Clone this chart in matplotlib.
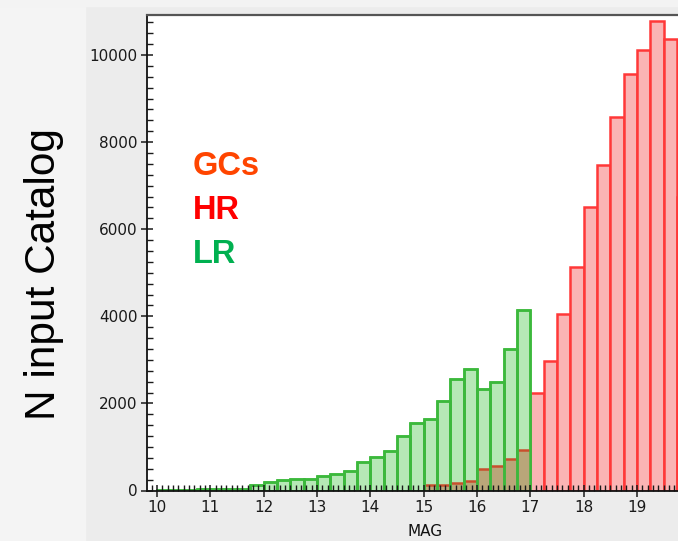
import matplotlib
matplotlib.use('Agg')
import matplotlib.pyplot as plt
import numpy as np
from matplotlib.patches import Rectangle
from matplotlib.ticker import MultipleLocator

# ---- data: histogram bins (0.25 mag wide), left edges and counts ----
BIN = 0.25
lr_left = np.arange(10.0, 17.0, BIN)          # LR (green) bins 10.00 .. 16.75
lr_counts = [20, 20, 20, 45, 45, 45, 45, 115,
             190, 235, 272, 265, 333, 370, 458, 650,
             770, 905, 1250, 1556, 1648, 2055, 2553, 2798,
             2338, 2492, 3243, 4140]
hr_left = np.arange(15.0, 20.0, BIN)          # HR (red) bins 15.00 .. 19.75
hr_counts = [115, 115, 161, 222, 498, 560, 713, 935,
             2246, 2967, 4063, 5136, 6502, 7483, 8571, 9560,
             10120, 10772, 10373, 6740]
x_ticks = [10, 11, 12, 13, 14, 15, 16, 17, 18, 19]

legend_labels = ['GCs', 'HR', 'LR']
legend_colors = ['#ff4500', '#ff0000', '#00b050']

W, H = 678, 541
fig = plt.figure(figsize=(W / 100, H / 100), dpi=100, facecolor='#ececec')
fig.patches.append(Rectangle((0, 0), 85 / W, 1, transform=fig.transFigure,
                             color='#f4f4f4', zorder=0))
fig.patches.append(Rectangle((0, 1 - 6 / H), 1, 6 / H, transform=fig.transFigure,
                             color='#f3f3f3', zorder=0))

ax = fig.add_axes([147 / W, 1 - 490.5 / H, (703 - 147) / W, (490.5 - 14.7) / H])
ax.set_facecolor('white')
ax.set_xlim(9.81, 20.24)
ax.set_ylim(0, 10925)

# red (HR) bars
ax.bar(hr_left, hr_counts, width=BIN, align='edge', color='#fab4b4',
       edgecolor='#ff3838', linewidth=1.8, zorder=1.1)
# green (LR) bars
ax.bar(lr_left, lr_counts, width=BIN, align='edge', color='#b6e8b6',
       edgecolor='#3cc03c', linewidth=1.8, zorder=1.2)

# overlap region (both catalogs)
lr_map = {round(m, 2): c for m, c in zip(lr_left, lr_counts)}
ov_left, ov_h = [], []
for m, c in zip(hr_left, hr_counts):
    key = round(m, 2)
    if key in lr_map:
        ov_left.append(m)
        ov_h.append(min(c, lr_map[key]))
ov_left = np.array(ov_left)
ov_h = np.array(ov_h)
ax.bar(ov_left, ov_h, width=BIN, align='edge', color='#b9a679',
       edgecolor='none', zorder=1.3)
ax.hlines(ov_h, ov_left, ov_left + BIN, color='#c8502d', linewidth=1.8, zorder=1.4)
ax.bar(lr_left, lr_counts, width=BIN, align='edge', fill=False,
       edgecolor='#3cb83c', linewidth=1.8, zorder=1.5)

# axes styling
ax.set_xticks(x_ticks)
ax.xaxis.set_minor_locator(MultipleLocator(0.1))
ax.yaxis.set_major_locator(MultipleLocator(2000))
ax.yaxis.set_minor_locator(MultipleLocator(250))
ax.tick_params(which='major', direction='inout', length=8, width=1.1,
               labelsize=11, colors='#1a1a1a', pad=3)
ax.tick_params(which='minor', direction='in', length=4, width=1.0, colors='#1a1a1a')
ax.tick_params(top=False, right=False, which='both')
for s in ['left', 'bottom']:
    ax.spines[s].set_linewidth(1.3)
    ax.spines[s].set_color('#111111')
ax.spines['top'].set_linewidth(1.6)
ax.spines['top'].set_color('#555555')
ax.set_xlabel('MAG', fontsize=11, labelpad=6, color='#111111')

# y label
fig.text(44 / W, 1 - 273.5 / H, 'N input Catalog', rotation=90, ha='center',
         va='center', fontsize=30.5, family='Liberation Sans', color='black')

# colored labels
for i, (lab, col) in enumerate(zip(legend_labels, legend_colors)):
    fig.text(193 / W, 1 - (175 + i * 44) / H, lab, fontsize=23.5, fontweight='bold',
             family='Liberation Sans', color=col, ha='left', va='baseline')

fig.savefig('out.png', dpi=100, facecolor=fig.get_facecolor())
